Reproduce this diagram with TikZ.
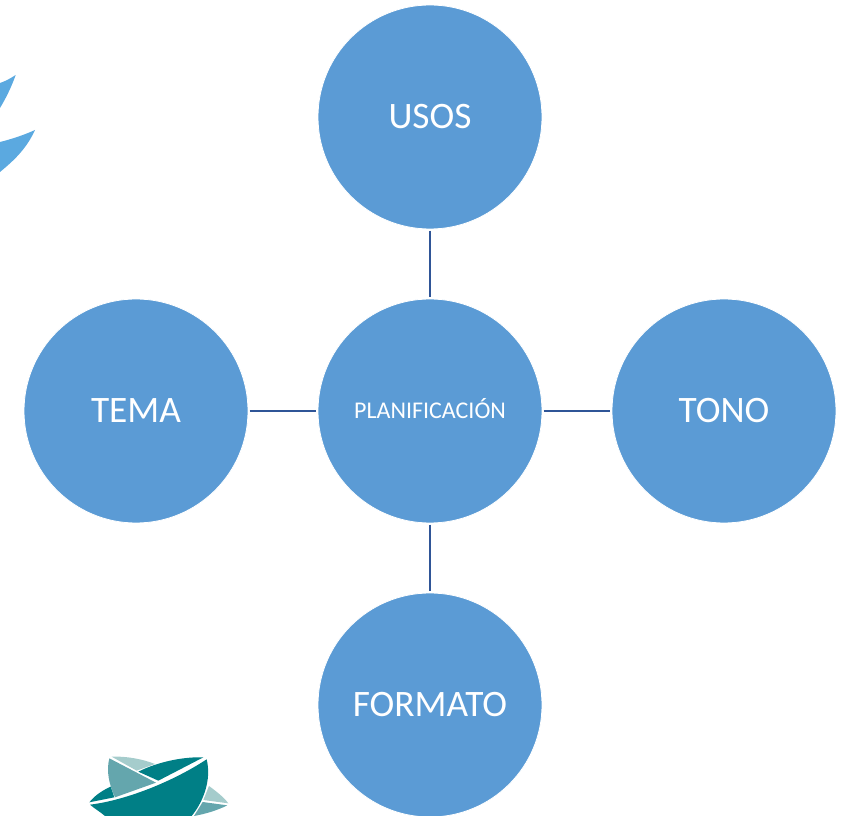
\documentclass[tikz,border=0pt]{standalone}
\usepackage{fontspec}
\setmainfont{Carlito}
\definecolor{circblue}{HTML}{5B9BD5}
\definecolor{linkblue}{HTML}{2F5597}
\definecolor{flakeblue}{HTML}{5BA9E0}
\definecolor{tealdark}{HTML}{007F86}
\definecolor{tealmid}{HTML}{64A6AD}
\definecolor{teallight}{HTML}{A5CCCC}
\begin{document}
\begin{tikzpicture}[
  x=0.75pt, y=-0.75pt,
  topic/.style={circle, draw=white, line width=0.6pt, fill=circblue, minimum size=168pt, inner sep=0pt, text=white, text height=18pt, text depth=0pt, font=\fontsize{28}{32}\selectfont},
  link/.style={draw=linkblue, line width=2.2pt, shorten >=1pt, shorten <=1pt},
  node distance=220.5pt
]
\useasboundingbox (0,0) rectangle (851,816);

% logo fragments
\fill[flakeblue] (15.7,75) .. controls (11,88) and (6,98) .. (0,108) -- (0,83) .. controls (6,81) and (11,78) .. (15.7,75) -- cycle;
\fill[flakeblue] (35,130) .. controls (26,150) and (12,162) .. (0,172) -- (0,142) .. controls (12,139) and (24,135) .. (35,130) -- cycle;

\begin{scope}[shift={(70,740)}, x=0.25pt, y=-0.25pt]
\fill[teallight] (125,50) .. controls (170,48) and (220,58) .. (255,72) -- (200,92) -- cycle;
\fill[tealmid] (118,55) -- (258,128) -- (135,172) .. controls (118,135) and (108,95) .. (118,55) -- cycle;
\fill[tealdark] (205,95) .. controls (265,65) and (340,50) .. (400,52) -- (265,122) -- cycle;
\fill[tealdark] (58,187) .. controls (75,165) and (100,150) .. (122,140) -- (133,172) -- cycle;
\fill[tealdark] (60,194) .. controls (160,182) and (300,130) .. (410,58) .. controls (425,120) and (400,185) .. (365,228) -- (105,228) .. controls (90,215) and (72,205) .. (60,194) -- cycle;
\fill[teallight] (417,138) .. controls (440,155) and (462,172) .. (475,190) -- (400,180) -- cycle;
\fill[tealmid] (398,186) -- (472,196) .. controls (440,212) and (405,222) .. (372,228) -- cycle;
\end{scope}

\node[topic, text height=11.6pt, font=\fontsize{18}{22}\selectfont] (plan) at (430,411) {PLANIFICACIÓN};
\node[topic, above of=plan] (usos) {USOS};
\node[topic, left of=plan] (tema) {TEMA};
\node[topic, right of=plan] (tono) {TONO};
\node[topic, below of=plan] (formato) {FORMATO};

\draw[link] (usos) -- (plan);
\draw[link] (tema) -- (plan);
\draw[link] (plan) -- (tono);
\draw[link] (plan) -- (formato);
\end{tikzpicture}
\end{document}
